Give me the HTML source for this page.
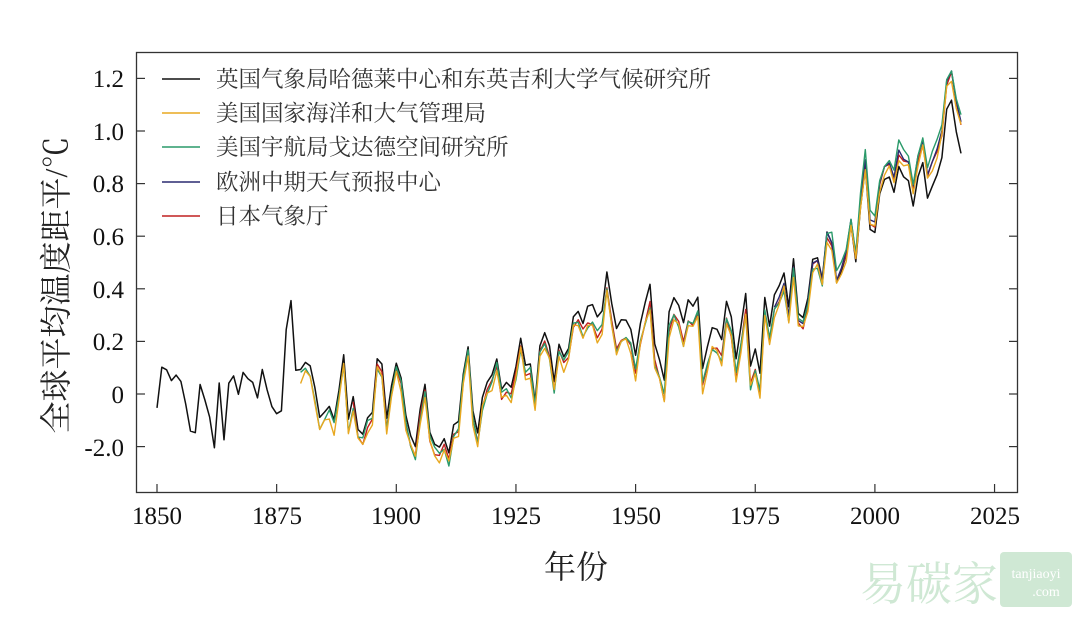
<!DOCTYPE html>
<html><head><meta charset="utf-8"><style>
body{margin:0;background:#fff;}
svg text{font-family:"Liberation Serif","Noto Serif CJK SC",serif;}
</style></head><body>
<svg id="s" width="1080" height="617" viewBox="0 0 1080 617" xmlns="http://www.w3.org/2000/svg">
<rect x="0" y="0" width="1080" height="617" fill="#fff"/>
<g id="plot"></g>
<rect x="136.5" y="52.5" width="881" height="440" fill="none" stroke="#333" stroke-width="1.3"/>
<g id="ticks" stroke="#333" stroke-width="1.2"></g>
<g font-size="25" fill="#111" text-anchor="end">
<text x="124" y="87">1.2</text><text x="124" y="140">1.0</text><text x="124" y="192">0.8</text>
<text x="124" y="245">0.6</text><text x="124" y="298">0.4</text><text x="124" y="350">0.2</text>
<text x="124" y="403">0</text><text x="124" y="456">-2.0</text>
</g>
<g font-size="25" fill="#111" text-anchor="middle">
<text x="157" y="524">1850</text><text x="277" y="524">1875</text><text x="396" y="524">1900</text>
<text x="516" y="524">1925</text><text x="636" y="524">1950</text><text x="755" y="524">1975</text>
<text x="875" y="524">2000</text><text x="995" y="524">2025</text>
</g>
<text x="576" y="578" font-size="32" text-anchor="middle" fill="#222">年份</text>
<text transform="translate(67,285) rotate(-90)" font-size="32" text-anchor="middle" fill="#222">全球平均温度距平/℃</text>
<g stroke-width="1.6">
<line x1="162" y1="79" x2="200" y2="79" stroke="#111"/>
<line x1="162" y1="113" x2="200" y2="113" stroke="#e8a820"/>
<line x1="162" y1="147" x2="200" y2="147" stroke="#2a9a6a"/>
<line x1="162" y1="182" x2="200" y2="182" stroke="#2a2a70"/>
<line x1="162" y1="216" x2="200" y2="216" stroke="#c02020"/>
</g>
<g font-size="22.5" fill="#333">
<text x="216" y="87">英国气象局哈德莱中心和东英吉利大学气候研究所</text>
<text x="216" y="121">美国国家海洋和大气管理局</text>
<text x="216" y="155">美国宇航局戈达德空间研究所</text>
<text x="216" y="190">欧洲中期天气预报中心</text>
<text x="216" y="224">日本气象厅</text>
</g>
<text x="860" y="600" font-size="46" fill="#cfe8d4" font-family="Liberation Sans,Noto Sans CJK SC,sans-serif">易碳家</text>
<rect x="1000" y="552" width="72" height="55" rx="4" fill="#cfe8d4"/>
<text x="1036" y="578" font-size="14" fill="#fff" text-anchor="middle" font-family="Liberation Sans,sans-serif">tanjiaoyi</text>
<text x="1046" y="596" font-size="14" fill="#fff" text-anchor="middle" font-family="Liberation Sans,sans-serif">.com</text>
</svg>
<script>
var h=[-0.373,-0.218,-0.228,-0.269,-0.248,-0.272,-0.358,-0.461,-0.467,-0.284,-0.343,-0.407,-0.524,-0.278,-0.494,-0.279,-0.251,-0.321,-0.238,-0.262,-0.276,-0.335,-0.227,-0.304,-0.368,-0.395,-0.384,-0.075,0.035,-0.23,-0.227,-0.2,-0.213,-0.296,-0.409,-0.389,-0.367,-0.418,-0.307,-0.171,-0.416,-0.33,-0.455,-0.473,-0.41,-0.39,-0.186,-0.206,-0.412,-0.289,-0.203,-0.259,-0.402,-0.479,-0.52,-0.377,-0.283,-0.465,-0.511,-0.522,-0.49,-0.544,-0.437,-0.424,-0.244,-0.141,-0.383,-0.468,-0.333,-0.275,-0.247,-0.187,-0.302,-0.276,-0.294,-0.215,-0.108,-0.21,-0.206,-0.35,-0.137,-0.087,-0.137,-0.273,-0.131,-0.178,-0.147,-0.026,-0.006,-0.052,0.014,0.02,-0.027,-0.004,0.144,0.025,-0.071,-0.038,-0.039,-0.074,-0.173,-0.052,0.028,0.097,-0.129,-0.19,-0.267,-0.007,0.046,0.017,-0.049,0.038,0.014,0.048,-0.223,-0.14,-0.068,-0.074,-0.113,0.032,-0.027,-0.186,-0.065,0.062,-0.214,-0.149,-0.241,0.047,-0.062,0.057,0.092,0.14,0.011,0.194,-0.014,-0.03,0.045,0.192,0.198,0.118,0.296,0.254,0.105,0.148,0.208,0.325,0.183,0.39,0.539,0.306,0.294,0.441,0.496,0.505,0.447,0.545,0.506,0.491,0.395,0.506,0.56,0.425,0.47,0.514,0.579,0.763,0.797,0.677,0.595];
function X(y){return 157+(y-1850)*4.786;}
function Y(v){return 394-263*v;}
function base(i){return h[i]+0.32;}
function dev(y){if(y<1940)return -0.03;if(y<1976)return -0.07;if(y<2000)return -0.07+(y-1976)/24*0.1;return 0.03+(y-2000)/18*0.08;}
function path(y0,y1,f,col,w){var d="";for(var y=y0;y<=y1;y++){var v=f(y);d+=(y==y0?"M":"L")+X(y).toFixed(1)+","+Y(v).toFixed(1);}
return '<path d="'+d+'" fill="none" stroke="'+col+'" stroke-width="'+w+'" stroke-linejoin="round"/>';}
var g="";
g+=path(1850,2018,function(y){return base(y-1850);},"#111",1.5);
g+=path(1891,2018,function(y){return base(y-1850)+dev(y)+0.01*Math.sin(y*1.3);},"#c02020",1.4);
g+=path(1979,2018,function(y){return base(y-1850)+dev(y)+0.01;},"#2a2a70",1.4);
g+=path(1880,2018,function(y){return base(y-1850)+dev(y)+0.02*Math.sin(y*0.9)+(y>1990?0.03:0);},"#2a9a6a",1.4);
g+=path(1880,2018,function(y){return base(y-1850)+dev(y)-0.015+0.015*Math.cos(y*1.7);},"#e8a820",1.4);
document.getElementById("plot").innerHTML=g;
var t="";
for(var i=0;i<8;i++){var x=157+i*119.65;t+='<line x1="'+x+'" y1="492" x2="'+x+'" y2="484"/>';}
for(var j=0;j<8;j++){var yy=78.4+j*52.6;t+='<line x1="137" y1="'+yy+'" x2="145" y2="'+yy+'"/><line x1="1017" y1="'+yy+'" x2="1009" y2="'+yy+'"/>';}
document.getElementById("ticks").innerHTML=t;
</script>
</body></html>
